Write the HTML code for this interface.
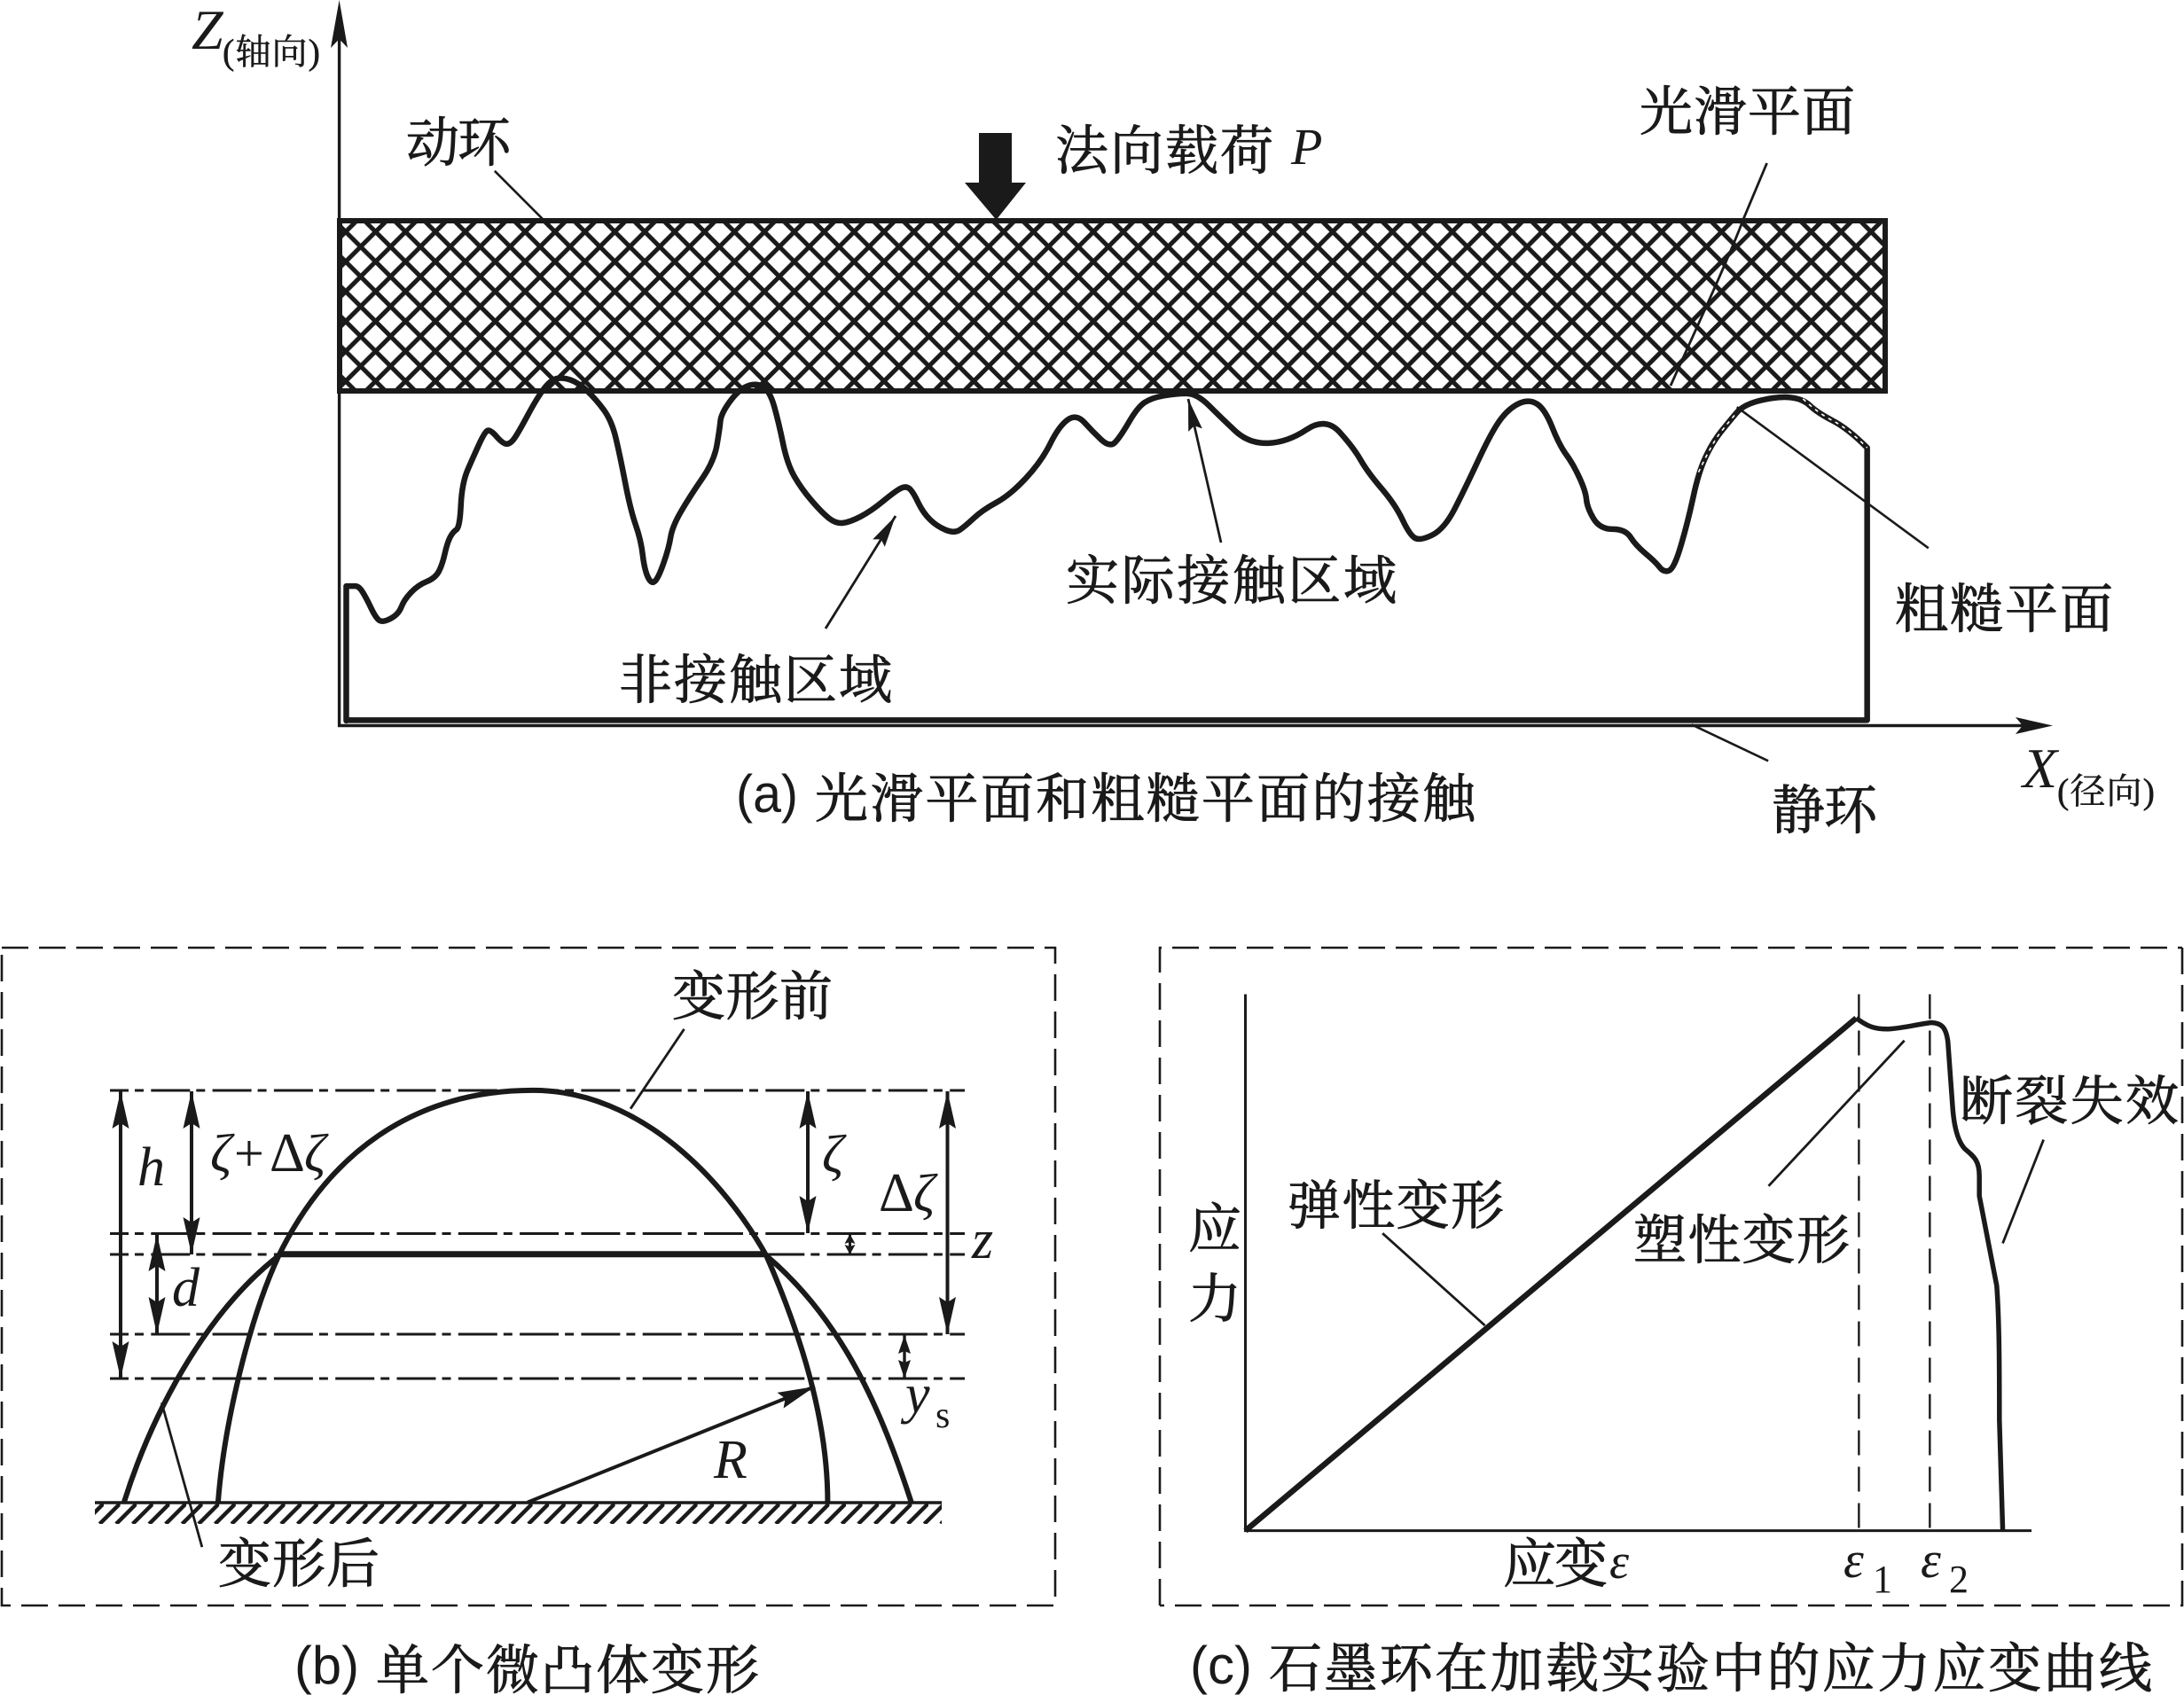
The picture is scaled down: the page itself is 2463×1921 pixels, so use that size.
<!DOCTYPE html>
<html><head><meta charset="utf-8"><title>Diagram</title>
<style>
html,body{margin:0;padding:0;background:#fff}
svg{display:block}
text{fill:#1a1a1a}
.c{font-family:"Liberation Serif","Noto Serif CJK SC",serif;font-size:60px;stroke:#1a1a1a;stroke-width:.9px}
.s{font-family:"Liberation Serif","Noto Serif CJK SC",serif;font-size:40px;stroke:#1a1a1a;stroke-width:.5px}
.i{font-family:"Liberation Serif",serif;font-style:italic;font-size:62px}
.r{font-family:"Liberation Serif",serif;font-size:60px}
.n{font-family:"Liberation Sans",sans-serif;font-size:60px}
.v{vector-effect:non-scaling-stroke;fill:none;stroke:#1a1a1a}
</style></head><body>
<svg xmlns="http://www.w3.org/2000/svg" width="2463" height="1921" viewBox="0 0 2463 1921">
<defs>
<pattern id="hx" patternUnits="userSpaceOnUse" x="406.7" y="278.3" width="33.73" height="33.7">
<path d="M-16.865,-16.85L50.595,50.55M50.595,-16.85L-16.865,50.55" stroke="#1a1a1a" stroke-width="5" fill="none"/>
</pattern>
<pattern id="gh" patternUnits="userSpaceOnUse" x="117" y="1695" width="18.6" height="24">
<path d="M-4.6,24 L19.4,0 M14,24 L38,0" stroke="#1a1a1a" stroke-width="4.5" fill="none"/>
</pattern>
<marker id="m" viewBox="-44 -11 46 22" markerWidth="46" markerHeight="22" markerUnits="userSpaceOnUse" refX="0" refY="0" orient="auto-start-reverse">
<path d="M-42,-9.5L0,0L-42,9.5L-36,0Z" fill="#1a1a1a"/>
</marker>
<marker id="ma" viewBox="-40 -10 42 20" markerWidth="42" markerHeight="20" markerUnits="userSpaceOnUse" refX="0" refY="0" orient="auto-start-reverse">
<path d="M-36,-8L0,0L-36,8L-31,0Z" fill="#1a1a1a"/>
</marker>
<marker id="ms" viewBox="-13 -7 15 14" markerWidth="15" markerHeight="14" markerUnits="userSpaceOnUse" refX="0" refY="0" orient="auto-start-reverse">
<path d="M-11,-6L0,0L-11,6L-9,0Z" fill="#1a1a1a"/>
</marker>
<marker id="mm" viewBox="-24 -8 26 16" markerWidth="26" markerHeight="16" markerUnits="userSpaceOnUse" refX="0" refY="0" orient="auto-start-reverse">
<path d="M-21,-7L0,0L-21,7L-18,0Z" fill="#1a1a1a"/>
</marker>
</defs>
<rect width="2463" height="1921" fill="#fff"/>

<!-- Figure a -->
<path d="M382.6,40V818.5H2285" fill="none" stroke="#1a1a1a" stroke-width="3.4"/>
<polygon points="382.6,0 392,54 382.6,44 373,54" fill="#1a1a1a"/>
<polygon points="2315,818.5 2273,809 2281,818.5 2273,828" fill="#1a1a1a"/>
<rect x="383" y="249" width="1743" height="192" fill="url(#hx)" stroke="#1a1a1a" stroke-width="6"/>
<polygon points="1104,150 1141,150 1141,206 1157,206 1123.5,248 1088,206 1104,206" fill="#1a1a1a"/>

<g transform="scale(.7857,.6122)">
<path class="v" stroke-width="6.5" stroke-linejoin="round" stroke-linecap="round" d="M497,1328L497,1080L510,1080
Q515,1080 520,1090 Q525,1100 532.5,1120 Q540,1140 545,1143.5 Q550,1147 561,1139.5 Q572,1132 576,1118.5 Q580,1105 590,1091.5 Q600,1078 612.5,1071.5 Q625,1065 630,1052.5 Q635,1040 638.5,1020 Q642,1000 646,990 Q650,980 655,976 Q660,972 661.5,931 Q663,890 671.5,865 Q680,840 687.5,819 Q695,798 699,794 Q703,790 712.5,804 Q722,818 727.5,818 Q733,818 739,806.5 Q745,795 757.5,765 Q770,735 780,717.5 Q790,700 799,697.5 Q808,695 819,700 Q830,705 842.5,720 Q855,735 866.5,755 Q878,775 884,807.5 Q890,840 897.5,890 Q905,940 912.5,967.5 Q920,995 922.5,1022.5 Q925,1050 930,1063.5 Q935,1077 940,1071 Q945,1065 952.5,1037.5 Q960,1010 962.5,990 Q965,970 977.5,942.5 Q990,915 1007.5,882.5 Q1025,850 1029,820 Q1033,790 1034,776 Q1035,762 1047.5,740 Q1060,718 1072.5,711.5 Q1085,705 1095,712.5 Q1105,720 1111.5,750 Q1118,780 1124,817.5 Q1130,855 1140,877.5 Q1150,900 1165,922.5 Q1180,945 1190,955 Q1200,965 1210,963.5 Q1220,962 1235,952 Q1250,942 1267.5,923.5 Q1285,905 1292.5,900 Q1300,895 1305,900 Q1310,905 1317.5,925 Q1325,945 1335,957.5 Q1345,970 1357.5,976.5 Q1370,983 1377.5,976.5 Q1385,970 1397.5,955 Q1410,940 1430,926 Q1450,912 1472.5,881 Q1495,850 1507.5,817.5 Q1520,785 1532.5,773.5 Q1545,762 1556.5,778.5
Q1568,795 1580.5,810 Q1593,825 1600.5,815 Q1608,805 1620.5,777.5 Q1633,750 1643,741.5 Q1653,733 1670.5,729 Q1688,725 1703,725 Q1718,725 1735.5,747.5 Q1753,770 1773,794 Q1793,818 1820.5,816.5 Q1848,815 1875.5,791.5 Q1903,768 1923,796.5 Q1943,825 1953,847.5 Q1963,870 1983,900 Q2003,930 2013,957.5 Q2023,985 2030.5,991 Q2038,997 2055.5,986 Q2073,975 2088,937.5 Q2103,900 2123,845 Q2143,790 2155.5,770 Q2168,750 2182,742.5 Q2196,735 2207,745 Q2218,755 2228,787.5 Q2238,820 2248,837.5 Q2258,855 2267,880 Q2276,905 2277,920 Q2278,935 2287,955 Q2296,975 2314.5,975 Q2333,975 2340.5,990 Q2348,1005 2362,1020 Q2376,1035 2382,1045 Q2388,1055 2395.5,1051.5 Q2403,1048 2413,1004 Q2423,960 2430.5,915 Q2438,870 2448,842.5 Q2458,815 2470.5,795 Q2483,775 2493,760 Q2503,745 2528,737.5 Q2553,730 2570.5,732.5 Q2588,735 2598,747.5 Q2608,760 2630.5,775 Q2653,790 2680,825 L2680,1327 L497,1327"/>
<path class="v" stroke-width="1.6" style="stroke:#fff" stroke-dasharray="4,5" d="M2438,870 Q2458,815 2470.5,795 Q2483,775 2493,760"/>
<path class="v" stroke-width="1.6" style="stroke:#fff" stroke-dasharray="4,5" d="M2588,735 Q2608,760 2630.5,775 Q2653,790 2680,825"/>
<path class="v" stroke-width="2.6" d="M710,315L780,405"/>
<path class="v" stroke-width="2.6" d="M2493,750L2768,1010"/>
<path class="v" stroke-width="2.6" d="M2428,1335L2538,1402"/>
</g>
<path d="M1992.6,184L1967,245C1950,290 1920,355 1884,435" fill="none" stroke="#1a1a1a" stroke-width="2.8"/>
<line x1="931" y1="709" x2="1010" y2="582" stroke="#1a1a1a" stroke-width="2.8" marker-end="url(#ma)"/>
<line x1="1377" y1="612" x2="1340" y2="450" stroke="#1a1a1a" stroke-width="2.8" marker-end="url(#ma)"/>

<text class="i" x="216" y="55" style="font-size:64px">Z</text>
<text class="s" x="251" y="72" textLength="110">(轴向)</text>
<text class="c" x="458" y="182" textLength="118">动环</text>
<text class="c" x="1190" y="191" textLength="246">法向载荷</text>
<text class="i" x="1456" y="185" style="font-size:58px">P</text>
<text class="c" x="1849" y="147" textLength="243">光滑平面</text>
<text class="c" x="2137" y="708" textLength="246">粗糙平面</text>
<text class="c" x="1202" y="676" textLength="373">实际接触区域</text>
<text class="c" x="698" y="788" textLength="308">非接触区域</text>
<text class="n" x="830" y="916" textLength="70" lengthAdjust="spacingAndGlyphs">(a)</text>
<text class="c" x="919" y="922" textLength="745">光滑平面和粗糙平面的接触</text>
<text class="c" x="1998" y="935" textLength="119">静环</text>
<text class="i" x="2281" y="888" style="font-size:64px">X</text>
<text class="s" x="2320" y="906" textLength="110">(径向)</text>

<!-- Figure b -->
<rect x="2" y="1069" width="1188" height="742" fill="none" stroke="#1a1a1a" stroke-width="2.6" stroke-dasharray="30,12"/>
<g stroke="#1a1a1a" stroke-width="3" stroke-dasharray="44,7,10,8.3" stroke-dashoffset="23" fill="none">
<line x1="124" y1="1230" x2="1088" y2="1230"/>
<line x1="124" y1="1391.5" x2="1088" y2="1391.5"/>
<line x1="124" y1="1415" x2="1088" y2="1415"/>
<line x1="124" y1="1505" x2="1088" y2="1505"/>
<line x1="124" y1="1555" x2="1088" y2="1555"/>
</g>
<rect x="107" y="1695" width="955" height="24" fill="url(#gh)"/>
<line x1="107" y1="1695" x2="1062" y2="1695" stroke="#1a1a1a" stroke-width="3.5"/>
<g transform="translate(0,1040) scale(.7857,.5619)">
<path class="v" stroke-width="6" d="M313,1165C322,1000 360,790 400,670C470,470 590,338 765,338C920,338 1040,520 1100,670C1150,830 1188,1000 1188,1165"/>
<path class="v" stroke-width="6" d="M178,1165C215,1000 290,790 400,670"/>
<path class="v" stroke-width="6" d="M1100,670C1210,800 1265,980 1308,1165"/>
<path class="v" stroke-width="7" d="M400,667L1100,667"/>
<path class="v" stroke-width="2.8" d="M982,215L905,375"/>
<path class="v" stroke-width="2.8" d="M232,965L290,1255"/>
</g>
<g stroke="#1a1a1a" stroke-width="4">
<line x1="136" y1="1231" x2="136" y2="1555" marker-start="url(#m)" marker-end="url(#m)"/>
<line x1="216" y1="1231" x2="216" y2="1415" marker-start="url(#m)" marker-end="url(#m)"/>
<line x1="177" y1="1392" x2="177" y2="1505" marker-start="url(#m)" marker-end="url(#m)"/>
<line x1="911" y1="1231" x2="911" y2="1391" marker-start="url(#m)" marker-end="url(#m)"/>
<line x1="1068.5" y1="1231" x2="1068.5" y2="1505" marker-start="url(#m)" marker-end="url(#m)"/>
<line x1="958.5" y1="1392" x2="958.5" y2="1415" stroke-width="3" marker-start="url(#ms)" marker-end="url(#ms)"/>
<line x1="1020" y1="1506" x2="1020" y2="1555" stroke-width="3.4" marker-start="url(#mm)" marker-end="url(#mm)"/>
<line x1="595" y1="1694.6" x2="919" y2="1564" marker-end="url(#m)"/>
</g>
<text class="c" x="758" y="1145" textLength="181">变形前</text>
<text class="c" x="246" y="1785" textLength="182">变形后</text>
<text class="i" x="155" y="1337">h</text>
<text class="i" x="237" y="1321" style="font-size:60px">ζ</text>
<text class="r" x="264" y="1321" style="font-size:60px">+</text>
<text class="r" x="304" y="1321" style="font-size:62px">Δ</text>
<text class="i" x="343" y="1321" style="font-size:60px">ζ</text>
<text class="i" x="927" y="1322" style="font-size:60px">ζ</text>
<text class="r" x="991" y="1366" style="font-size:62px">Δ</text>
<text class="i" x="1030" y="1366" style="font-size:60px">ζ</text>
<text class="i" x="1096" y="1419">z</text>
<text class="i" x="194" y="1473">d</text>
<text class="i" x="1021" y="1593">y</text>
<text class="r" x="1055" y="1610" style="font-size:42px">s</text>
<text class="i" x="805" y="1667">R</text>
<text class="n" x="332" y="1899" textLength="73" lengthAdjust="spacingAndGlyphs">(b)</text>
<text class="c" x="424" y="1905" textLength="432">单个微凸体变形</text>

<!-- Figure c -->
<path d="M1308,1811V1069H2461M2461,1069V1811H1308" fill="none" stroke="#1a1a1a" stroke-width="2.6" stroke-dasharray="30,12"/>
<g transform="translate(1280,1040) scale(.7545,.5619)">
<path class="v" stroke-width="3" d="M165,145V1222H1340"/>
<path class="v" stroke-width="2.4" stroke-dasharray="28,13" d="M1082,145V1222M1188,145V1222"/>
<path class="v" stroke-width="6.5" stroke-linejoin="round" d="M165,1222L1078,193"/>
<path class="v" stroke-width="5.5" stroke-linejoin="round" d="M1078,193C1095,210 1105,215 1125,215C1150,213 1170,205 1190,202C1205,203 1212,210 1215,240L1222,370C1224,410 1230,440 1240,455C1255,472 1262,480 1262,510L1262,550L1275,640L1288,730C1292,800 1292,900 1292,1000L1297,1222"/>
<path class="v" stroke-width="2.8" d="M370,625L523,810"/>
<path class="v" stroke-width="2.8" d="M1150,238L947,530"/>
<path class="v" stroke-width="2.8" d="M1358,437L1297,645"/>
</g>
<text class="c" x="1452" y="1381" textLength="244">弹性变形</text>
<text class="c" x="1842" y="1420" textLength="244">塑性变形</text>
<text class="c" x="2210" y="1263" textLength="247">断裂失效</text>
<text class="c" x="1340" y="1407">应</text>
<text class="c" x="1340" y="1486">力</text>
<text class="c" x="1695" y="1785" textLength="118">应变</text>
<text class="i" x="1815" y="1780" style="font-size:56px">ε</text>
<text class="i" x="2079" y="1779" style="font-size:58px">ε</text>
<text class="r" x="2112" y="1796" style="font-size:44px">1</text>
<text class="i" x="2166" y="1779" style="font-size:58px">ε</text>
<text class="r" x="2198" y="1796" style="font-size:44px">2</text>
<text class="n" x="1342" y="1899" textLength="70" lengthAdjust="spacingAndGlyphs">(c)</text>
<text class="c" x="1431" y="1903" textLength="996">石墨环在加载实验中的应力应变曲线</text>
</svg>
</body></html>
